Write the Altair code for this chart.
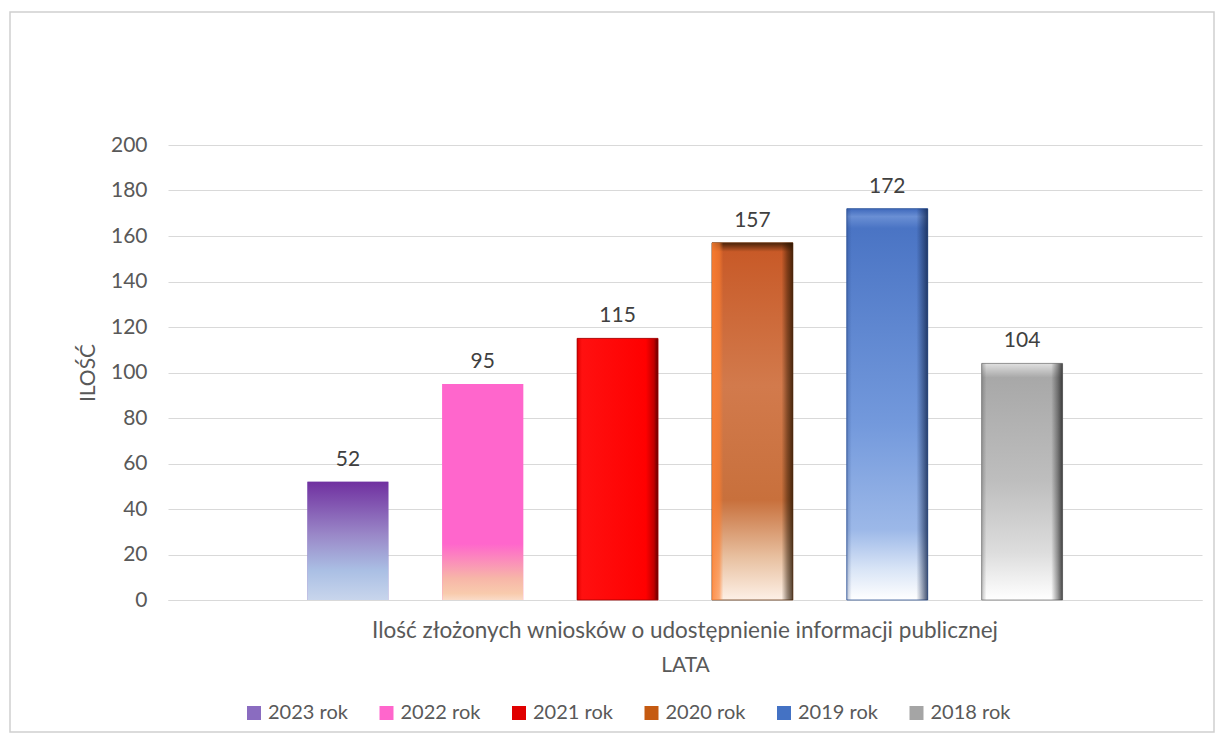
import altair as alt
import pandas as pd

category = "Ilość złożonych wniosków o udostępnienie informacji publicznej"
series = ["2023 rok", "2022 rok", "2021 rok", "2020 rok", "2019 rok", "2018 rok"]
values = [52, 95, 115, 157, 172, 104]
legend_colors = ["#8A6CC0", "#FF66CC", "#E00000", "#C55A11", "#4472C4", "#A5A5A5"]
y_ticks = [0, 20, 40, 60, 80, 100, 120, 140, 160, 180, 200]

df = pd.DataFrame({"kat": [category] * len(series), "rok": series, "ilosc": values})

FONT = "Lato"
TXT = "#595959"


def grad(stops, horizontal=False):
    return alt.Gradient(
        gradient="linear",
        x1=0, y1=0,
        x2=1 if horizontal else 0,
        y2=0 if horizontal else 1,
        stops=[alt.GradientStop(offset=o, color=c) for o, c in stops],
    )


gradients = {
    "2023 rok": (grad([(0, "#7030A0"), (0.45, "#9A88C8"), (0.75, "#AABFE4"), (1, "#C8D5EC")]), None),
    "2022 rok": (grad([(0, "#FF66CC"), (0.74, "#FF66CC"), (0.9, "#F7B6A8"), (0.97, "#F8CBAD"), (1, "#FADBC8")]), None),
    "2021 rok": (grad([(0, "#E00000"), (0.06, "#FF1010"), (0.85, "#FF0000"), (0.95, "#C00000"), (1, "#600000")], horizontal=True), "#A00000"),
    "2020 rok": (grad([(0, "#4A2208"), (0.025, "#C85A28"), (0.4, "#D27A4C"), (0.72, "#C8703C"), (0.88, "#E8C0A0"), (1, "#FDF0E6")]), "#6A3A18"),
    "2019 rok": (grad([(0, "#3F69BC"), (0.02, "#6A8FD4"), (0.05, "#4A74C4"), (0.55, "#7399DC"), (0.82, "#9CB8E8"), (0.92, "#D8E4F6"), (1, "#FFFFFF")]), "#2F5597"),
    "2018 rok": (grad([(0, "#E0E0E0"), (0.06, "#A8A8A8"), (0.5, "#BEBEBE"), (0.8, "#DDDDDD"), (1, "#FFFFFF")]), "#808080"),
}

bevels = {
    "2020 rok": grad([(0, "rgba(255,128,48,0.85)"), (0.09, "rgba(255,128,48,0.6)"), (0.14, "rgba(255,128,48,0)"),
                      (0.86, "rgba(40,20,0,0)"), (0.93, "rgba(40,20,0,0.45)"), (1, "rgba(40,20,0,0.8)")], horizontal=True),
    "2019 rok": grad([(0, "rgba(30,60,120,0.3)"), (0.06, "rgba(30,60,120,0)"),
                      (0.86, "rgba(20,40,80,0)"), (0.94, "rgba(20,40,80,0.45)"), (1, "rgba(20,40,80,0.8)")], horizontal=True),
    "2018 rok": grad([(0, "rgba(80,80,80,0.35)"), (0.06, "rgba(80,80,80,0)"),
                      (0.86, "rgba(40,40,40,0)"), (0.94, "rgba(40,40,40,0.45)"), (1, "rgba(40,40,40,0.85)")], horizontal=True),
}

x_enc = alt.X(
    "kat:N",
    title="LATA",
    scale=alt.Scale(paddingInner=0, paddingOuter=0.139),
    axis=alt.Axis(
        labelAngle=0, ticks=False, labelPadding=19, labelFontSize=22.5, labelColor=TXT,
        labelFont=FONT, labelLimit=0, titleFont=FONT, titleFontSize=21, titleFontWeight="normal",
        titleColor=TXT, titlePadding=13, domainColor="#D9D9D9", grid=False,
    ),
)
xoff_enc = alt.XOffset("rok:N", sort=series, scale=alt.Scale(paddingInner=0.4, paddingOuter=0.2))
y_enc = alt.Y(
    "ilosc:Q",
    title="ILOŚĆ",
    scale=alt.Scale(domain=[0, 200]),
    axis=alt.Axis(
        values=y_ticks, ticks=False, domain=False, labelPadding=21, labelFontSize=21,
        labelColor=TXT, labelFont=FONT, titleFont=FONT, titleFontSize=21,
        titleFontWeight="normal", titleColor=TXT, titlePadding=12, gridColor="#D9D9D9",
    ),
)

base = alt.Chart(df)

solid = base.mark_bar().encode(
    x=x_enc, xOffset=xoff_enc, y=y_enc,
    color=alt.Color(
        "rok:N",
        scale=alt.Scale(domain=series, range=legend_colors),
        legend=alt.Legend(
            title=None, orient="none", direction="horizontal", legendX=76, legendY=558,
            symbolType="square", symbolSize=196, labelFont=FONT, labelFontSize=20,
            labelColor=TXT, columnPadding=28.5, labelOffset=4, symbolStrokeWidth=0,
        ),
    ),
)

layers = [solid]
for s in series:
    g, stroke = gradients[s]
    kw = {"fill": g}
    if stroke:
        kw.update(stroke=stroke, strokeWidth=1, strokeOpacity=0.8)
    layers.append(
        base.transform_filter(alt.datum.rok == s).mark_bar(**kw).encode(x=x_enc, xOffset=xoff_enc, y=y_enc)
    )
    if s in bevels:
        layers.append(
            base.transform_filter(alt.datum.rok == s).mark_bar(fill=bevels[s]).encode(x=x_enc, xOffset=xoff_enc, y=y_enc)
        )

labels = base.mark_text(dy=-16, baseline="alphabetic", font=FONT, fontSize=21, color="#404040").encode(
    x=x_enc, xOffset=xoff_enc, y=y_enc, text="ilosc:Q"
)
layers.append(labels)

frame = alt.Chart(alt.Data(values=[{"f": 1}])).mark_rect(
    fillOpacity=0, stroke="#D0D0D0", strokeWidth=1.5
).encode(
    x=alt.value(-158), x2=alt.value(1046), y=alt.value(-133), y2=alt.value(587)
)
layers.insert(0, frame)

chart = alt.layer(*layers).properties(
    width=1034, height=455,
    padding={"left": 160, "top": 137, "right": 14, "bottom": 134},
    autosize=alt.AutoSizeParams(type="none"),
    background="white",
).configure_view(stroke=None)

chart.save("out.html", embed_options={"renderer": "svg", "actions": False})
